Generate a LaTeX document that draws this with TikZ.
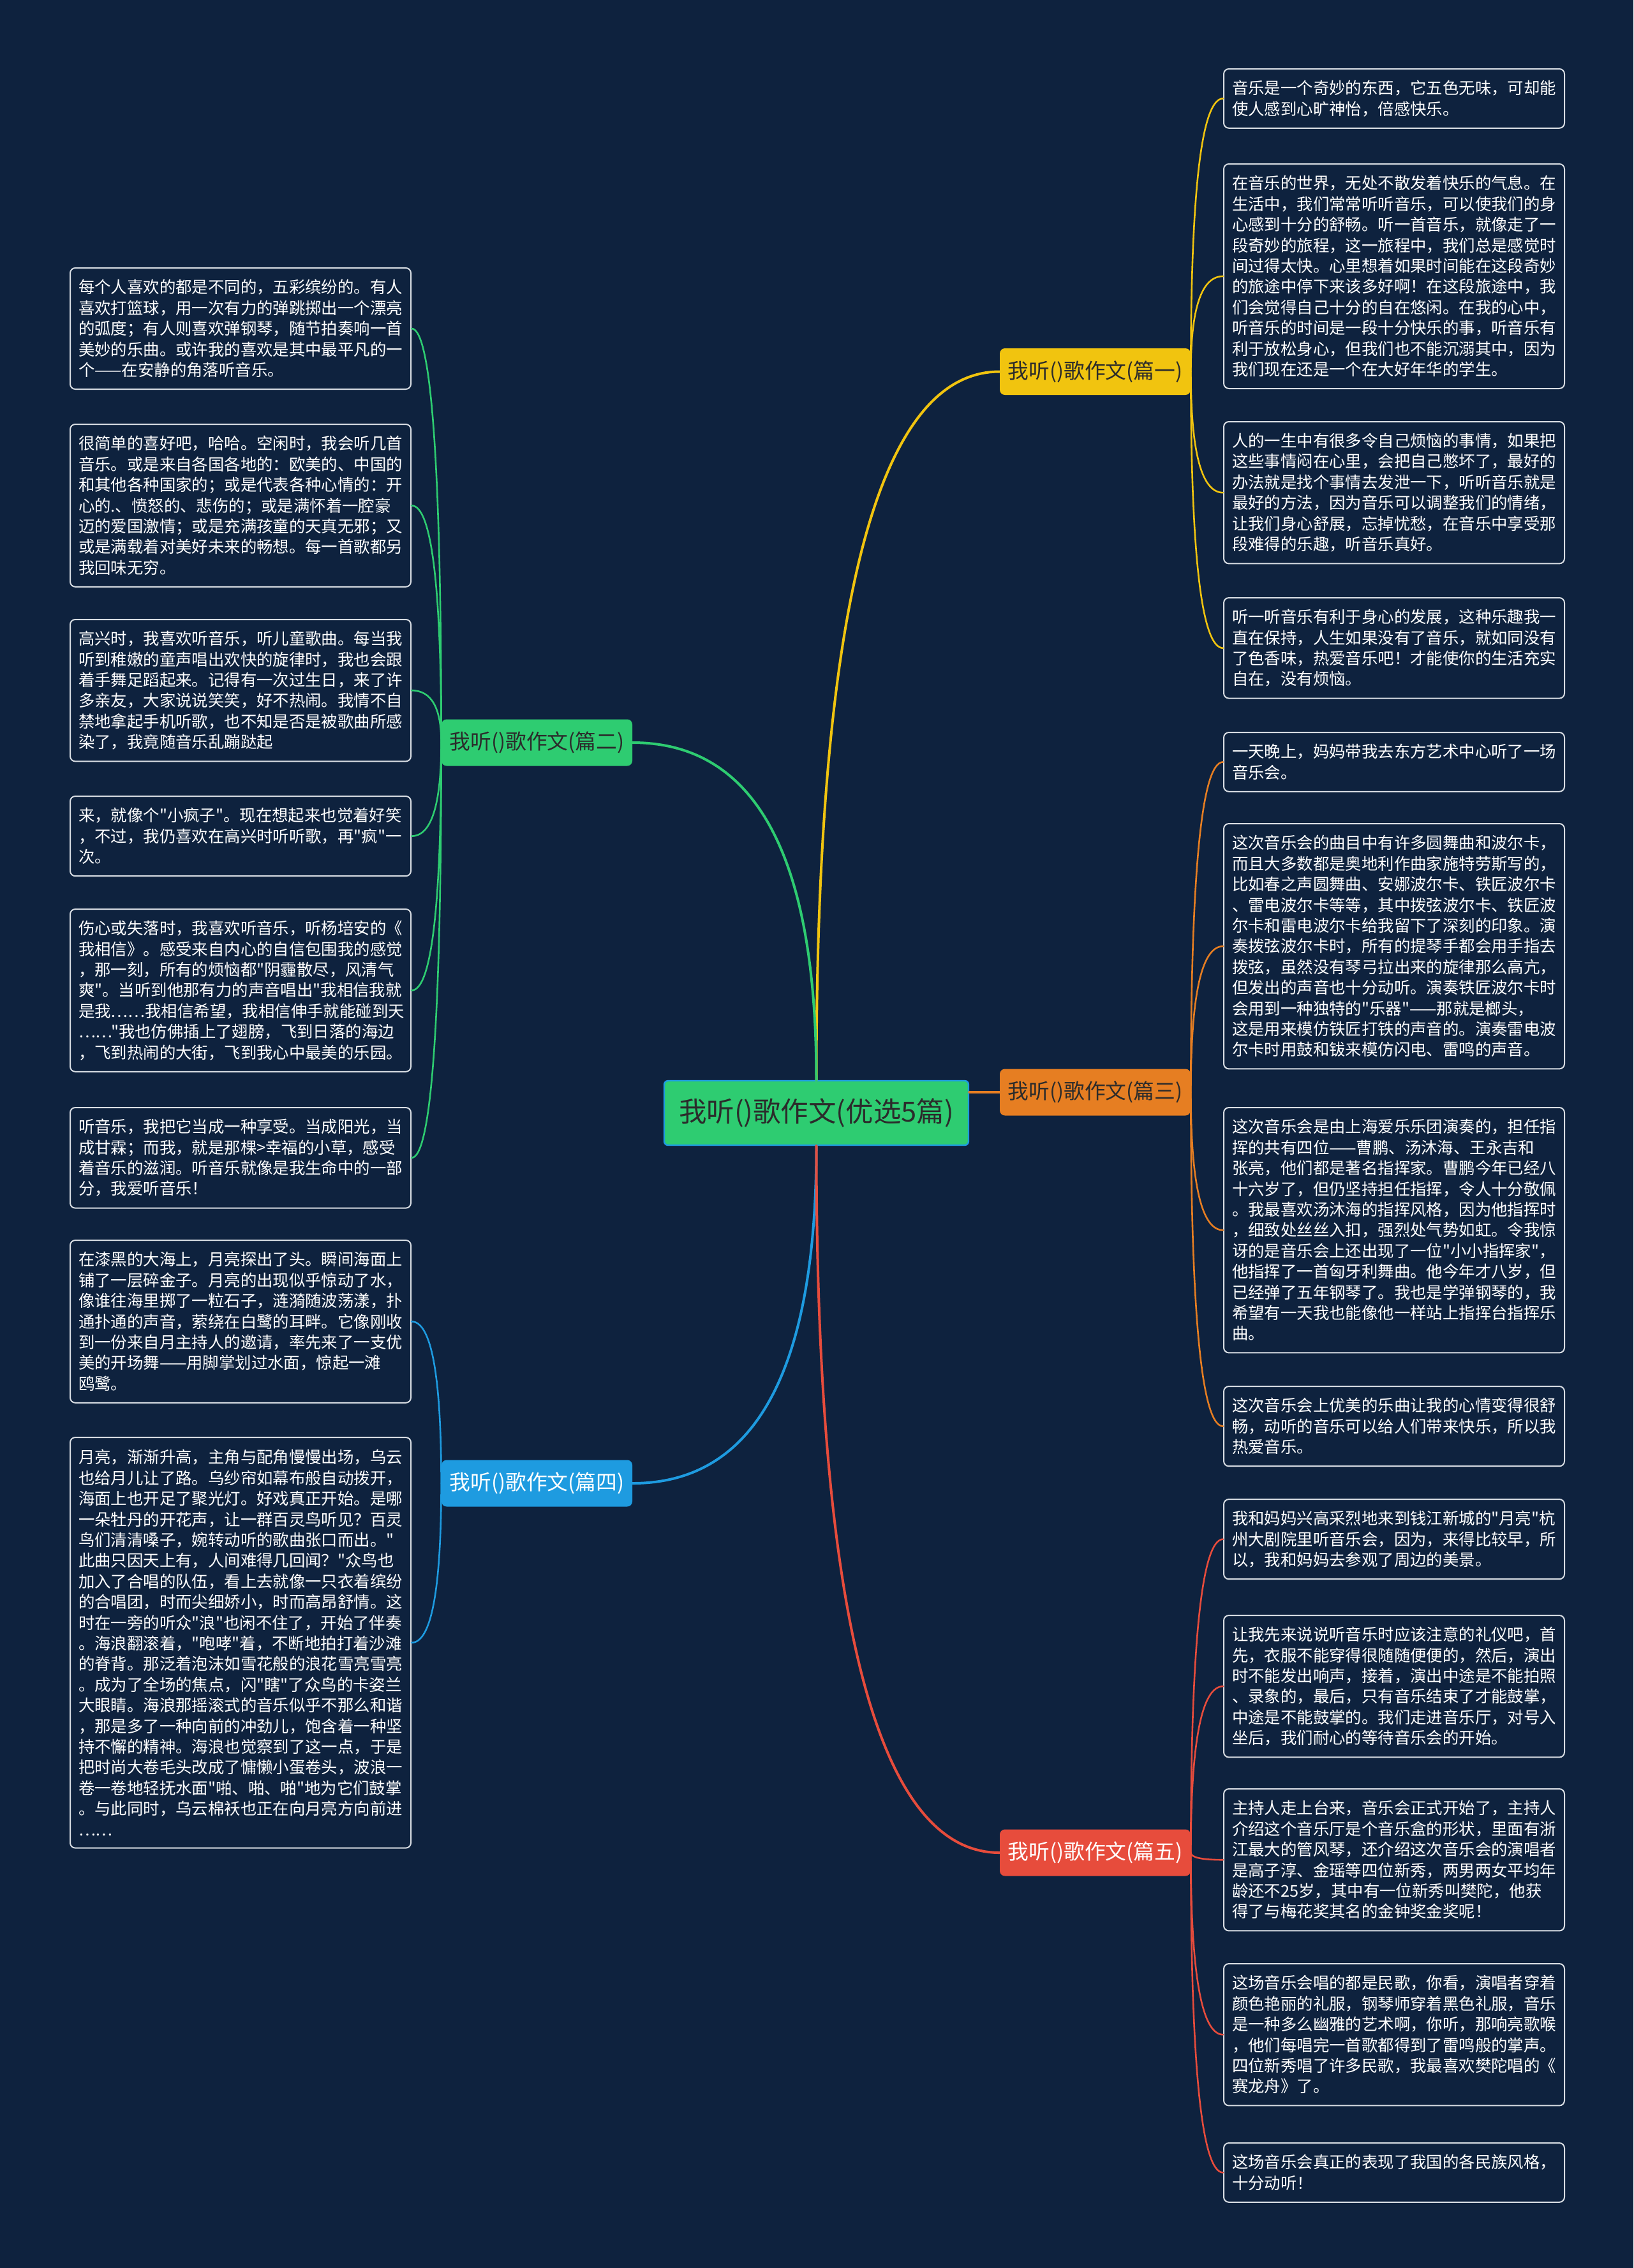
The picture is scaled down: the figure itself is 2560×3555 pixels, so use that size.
\documentclass[tikz,border=0pt]{standalone}
\usepackage{fontspec}
\setmainfont{Noto Sans CJK SC}
\newfontfamily\cjk{Noto Sans CJK SC}
\usetikzlibrary{calc}
\definecolor{bg}{HTML}{0E223E}
\definecolor{cyel}{HTML}{F1C40F}
\definecolor{cgrn}{HTML}{2ECC71}
\definecolor{corg}{HTML}{E67E22}
\definecolor{cblu}{HTML}{1E9BE0}
\definecolor{cred}{HTML}{E74C3C}
\definecolor{leafline}{HTML}{D8DDE3}
\definecolor{darktext}{HTML}{2B2B2B}
\newcommand{\qlink}[3]{\draw[#1] (#2) .. controls ($(#2)!0.6667!(#2 |- #3)$) and ($(#3)!0.6667!(#2 |- #3)$) .. (#3);}
\tikzset{
  leaf/.style={draw=leafline, line width=1pt, fill=bg, rounded corners=4pt,
    text width=254pt, inner xsep=6.5pt, inner ysep=0pt, align=left, text=white,
    font=\cjk\fontsize{12.7pt}{16.2pt}\selectfont},
  leafR/.style={leaf, anchor=north west},
  leafL/.style={leaf, anchor=north west},
  branch/.style={rounded corners=4pt, minimum width=149.5pt, minimum height=36.5pt,
    inner sep=0pt, font=\cjk\fontsize{16.4pt}{20pt}\selectfont},
  mainlink/.style={line width=2pt, line cap=round},
  leaflink/.style={line width=1.3pt, line cap=round}
}
\begin{document}
\begin{tikzpicture}[x=0.5pt,y=-0.5pt]
\useasboundingbox (0,0) rectangle (2560,3555);
\fill[bg] (0,0) rectangle (2560,3555);

% central and branches
\node[draw=cblu, line width=1.2pt, fill=cgrn, rounded corners=3pt, minimum width=238.5pt, minimum height=50.5pt, inner sep=0pt, text=darktext, font=\cjk\fontsize{21.75pt}{26pt}\selectfont] (c) at (1279.5,1744.5) {我听()歌作文(优选5篇)};
\node[branch, fill=cyel, text=darktext] (b1) at (1716.5,582.5) {我听()歌作文(篇一)};
\node[branch, fill=cgrn, text=darktext] (b2) at (841.5,1164) {我听()歌作文(篇二)};
\node[branch, fill=corg, text=darktext] (b3) at (1716.5,1712) {我听()歌作文(篇三)};
\node[branch, fill=cblu, text=white] (b4) at (841.5,2325) {我听()歌作文(篇四)};
\node[branch, fill=cred, text=white] (b5) at (1716.5,2904) {我听()歌作文(篇五)};

% right leaves: 篇一
\node[leafR, minimum height=46.4pt] (r1) at (1917,107) {音乐是一个奇妙的东西，它五色无味，可却能\\使人感到心旷神怡，倍感快乐。};
\node[leafR, minimum height=176pt] (r2) at (1917,256) {在音乐的世界，无处不散发着快乐的气息。在\\生活中，我们常常听听音乐，可以使我们的身\\心感到十分的舒畅。听一首音乐，就像走了一\\段奇妙的旅程，这一旅程中，我们总是感觉时\\间过得太快。心里想着如果时间能在这段奇妙\\的旅途中停下来该多好啊！在这段旅途中，我\\们会觉得自己十分的自在悠闲。在我的心中，\\听音乐的时间是一段十分快乐的事，听音乐有\\利于放松身心，但我们也不能沉溺其中，因为\\我们现在还是一个在大好年华的学生。};
\node[leafR, minimum height=111.2pt] (r3) at (1917,660) {人的一生中有很多令自己烦恼的事情，如果把\\这些事情闷在心里，会把自己憋坏了，最好的\\办法就是找个事情去发泄一下，听听音乐就是\\最好的方法，因为音乐可以调整我们的情绪，\\让我们身心舒展，忘掉忧愁，在音乐中享受那\\段难得的乐趣，听音乐真好。};
\node[leafR, minimum height=78.8pt] (r4) at (1917,936) {听一听音乐有利于身心的发展，这种乐趣我一\\直在保持，人生如果没有了音乐，就如同没有\\了色香味，热爱音乐吧！才能使你的生活充实\\自在，没有烦恼。};

% 篇三
\node[leafR, minimum height=46.4pt] (o1) at (1917,1147) {一天晚上，妈妈带我去东方艺术中心听了一场\\音乐会。};
\node[leafR, minimum height=192.2pt] (o2) at (1917,1290) {这次音乐会的曲目中有许多圆舞曲和波尔卡，\\而且大多数都是奥地利作曲家施特劳斯写的，\\比如春之声圆舞曲、安娜波尔卡、铁匠波尔卡\\、雷电波尔卡等等，其中拨弦波尔卡、铁匠波\\尔卡和雷电波尔卡给我留下了深刻的印象。演\\奏拨弦波尔卡时，所有的提琴手都会用手指去\\拨弦，虽然没有琴弓拉出来的旋律那么高亢，\\但发出的声音也十分动听。演奏铁匠波尔卡时\\会用到一种独特的"乐器"——那就是榔头，\\这是用来模仿铁匠打铁的声音的。演奏雷电波\\尔卡时用鼓和钹来模仿闪电、雷鸣的声音。};
\node[leafR, minimum height=192.2pt] (o3) at (1917,1735) {这次音乐会是由上海爱乐乐团演奏的，担任指\\挥的共有四位——曹鹏、汤沐海、王永吉和\\张亮，他们都是著名指挥家。曹鹏今年已经八\\十六岁了，但仍坚持担任指挥，令人十分敬佩\\。我最喜欢汤沐海的指挥风格，因为他指挥时\\，细致处丝丝入扣，强烈处气势如虹。令我惊\\讶的是音乐会上还出现了一位"小小指挥家"，\\他指挥了一首匈牙利舞曲。他今年才八岁，但\\已经弹了五年钢琴了。我也是学弹钢琴的，我\\希望有一天我也能像他一样站上指挥台指挥乐\\曲。};
\node[leafR, minimum height=62.6pt] (o4) at (1917,2172) {这次音乐会上优美的乐曲让我的心情变得很舒\\畅，动听的音乐可以给人们带来快乐，所以我\\热爱音乐。};

% 篇五
\node[leafR, minimum height=62.6pt] (e1) at (1917,2349) {我和妈妈兴高采烈地来到钱江新城的"月亮"杭\\州大剧院里听音乐会，因为，来得比较早，所\\以，我和妈妈去参观了周边的美景。};
\node[leafR, minimum height=111.2pt] (e2) at (1917,2531) {让我先来说说听音乐时应该注意的礼仪吧，首\\先，衣服不能穿得很随随便便的，然后，演出\\时不能发出响声，接着，演出中途是不能拍照\\、录象的，最后，只有音乐结束了才能鼓掌，\\中途是不能鼓掌的。我们走进音乐厅，对号入\\坐后，我们耐心的等待音乐会的开始。};
\node[leafR, minimum height=111.2pt] (e3) at (1917,2803) {主持人走上台来，音乐会正式开始了，主持人\\介绍这个音乐厅是个音乐盒的形状，里面有浙\\江最大的管风琴，还介绍这次音乐会的演唱者\\是高子淳、金瑶等四位新秀，两男两女平均年\\龄还不25岁，其中有一位新秀叫樊陀，他获\\得了与梅花奖其名的金钟奖金奖呢！};
\node[leafR, minimum height=111.2pt] (e4) at (1917,3077) {这场音乐会唱的都是民歌，你看，演唱者穿着\\颜色艳丽的礼服，钢琴师穿着黑色礼服，音乐\\是一种多么幽雅的艺术啊，你听，那响亮歌喉\\，他们每唱完一首歌都得到了雷鸣般的掌声。\\四位新秀唱了许多民歌，我最喜欢樊陀唱的《\\赛龙舟》了。};
\node[leafR, minimum height=46.4pt] (e5) at (1917,3358) {这场音乐会真正的表现了我国的各民族风格，\\十分动听！};

% left leaves: 篇二
\node[leafL, minimum height=95pt] (g1) at (109,419) {每个人喜欢的都是不同的，五彩缤纷的。有人\\喜欢打篮球，用一次有力的弹跳掷出一个漂亮\\的弧度；有人则喜欢弹钢琴，随节拍奏响一首\\美妙的乐曲。或许我的喜欢是其中最平凡的一\\个——在安静的角落听音乐。};
\node[leafL, minimum height=127.4pt] (g2) at (109,664) {很简单的喜好吧，哈哈。空闲时，我会听几首\\音乐。或是来自各国各地的：欧美的、中国的\\和其他各种国家的；或是代表各种心情的：开\\心的.、愤怒的、悲伤的；或是满怀着一腔豪\\迈的爱国激情；或是充满孩童的天真无邪；又\\或是满载着对美好未来的畅想。每一首歌都另\\我回味无穷。};
\node[leafL, minimum height=111.2pt] (g3) at (109,970) {高兴时，我喜欢听音乐，听儿童歌曲。每当我\\听到稚嫩的童声唱出欢快的旋律时，我也会跟\\着手舞足蹈起来。记得有一次过生日，来了许\\多亲友，大家说说笑笑，好不热闹。我情不自\\禁地拿起手机听歌，也不知是否是被歌曲所感\\染了，我竟随音乐乱蹦跶起};
\node[leafL, minimum height=62.6pt] (g4) at (109,1247) {来，就像个"小疯子"。现在想起来也觉着好笑\\，不过，我仍喜欢在高兴时听听歌，再"疯"一\\次。};
\node[leafL, minimum height=127.4pt] (g5) at (109,1424) {伤心或失落时，我喜欢听音乐，听杨培安的《\\我相信》。感受来自内心的自信包围我的感觉\\，那一刻，所有的烦恼都"阴霾散尽，风清气\\爽"。当听到他那有力的声音唱出"我相信我就\\是我……我相信希望，我相信伸手就能碰到天\\……"我也仿佛插上了翅膀，飞到日落的海边\\，飞到热闹的大街，飞到我心中最美的乐园。};
\node[leafL, minimum height=78.8pt] (g6) at (109,1735) {听音乐，我把它当成一种享受。当成阳光，当\\成甘霖；而我，就是那棵>幸福的小草，感受\\着音乐的滋润。听音乐就像是我生命中的一部\\分，我爱听音乐！};

% 篇四
\node[leafL, minimum height=127.4pt] (u1) at (109,1943) {在漆黑的大海上，月亮探出了头。瞬间海面上\\铺了一层碎金子。月亮的出现似乎惊动了水，\\像谁往海里掷了一粒石子，涟漪随波荡漾，扑\\通扑通的声音，萦绕在白鹭的耳畔。它像刚收\\到一份来自月主持人的邀请，率先来了一支优\\美的开场舞——用脚掌划过水面，惊起一滩\\鸥鹭。};
\node[leafL, minimum height=321.8pt] (u2) at (109,2252) {月亮，渐渐升高，主角与配角慢慢出场，乌云\\也给月儿让了路。乌纱帘如幕布般自动拨开，\\海面上也开足了聚光灯。好戏真正开始。是哪\\一朵牡丹的开花声，让一群百灵鸟听见？百灵\\鸟们清清嗓子，婉转动听的歌曲张口而出。"\\此曲只因天上有，人间难得几回闻？"众鸟也\\加入了合唱的队伍，看上去就像一只衣着缤纷\\的合唱团，时而尖细娇小，时而高昂舒情。这\\时在一旁的听众"浪"也闲不住了，开始了伴奏\\。海浪翻滚着，"咆哮"着，不断地拍打着沙滩\\的脊背。那泛着泡沫如雪花般的浪花雪亮雪亮\\。成为了全场的焦点，闪"瞎"了众鸟的卡姿兰\\大眼睛。海浪那摇滚式的音乐似乎不那么和谐\\，那是多了一种向前的冲劲儿，饱含着一种坚\\持不懈的精神。海浪也觉察到了这一点，于是\\把时尚大卷毛头改成了慵懒小蛋卷头，波浪一\\卷一卷地轻抚水面"啪、啪、啪"地为它们鼓掌\\。与此同时，乌云棉袄也正在向月亮方向前进\\……};

% main connectors
\qlink{mainlink, cyel}{c.north}{b1.west}
\qlink{mainlink, cgrn}{c.north}{b2.east}
\draw[mainlink, corg] (c.east |- b3.west) -- (b3.west);
\qlink{mainlink, cblu}{c.south}{b4.east}
\qlink{mainlink, cred}{c.south}{b5.west}

% leaf connectors
\foreach \l in {r1,r2,r3,r4} {\qlink{leaflink, cyel}{b1.east}{\l.west}}
\foreach \l in {o1,o2,o3,o4} {\qlink{leaflink, corg}{b3.east}{\l.west}}
\foreach \l in {e1,e2,e3,e4,e5} {\qlink{leaflink, cred}{b5.east}{\l.west}}
\foreach \l in {g1,g2,g3,g4,g5,g6} {\qlink{leaflink, cgrn}{b2.west}{\l.east}}
\foreach \l in {u1,u2} {\qlink{leaflink, cblu}{b4.west}{\l.east}}
\end{tikzpicture}
\end{document}
